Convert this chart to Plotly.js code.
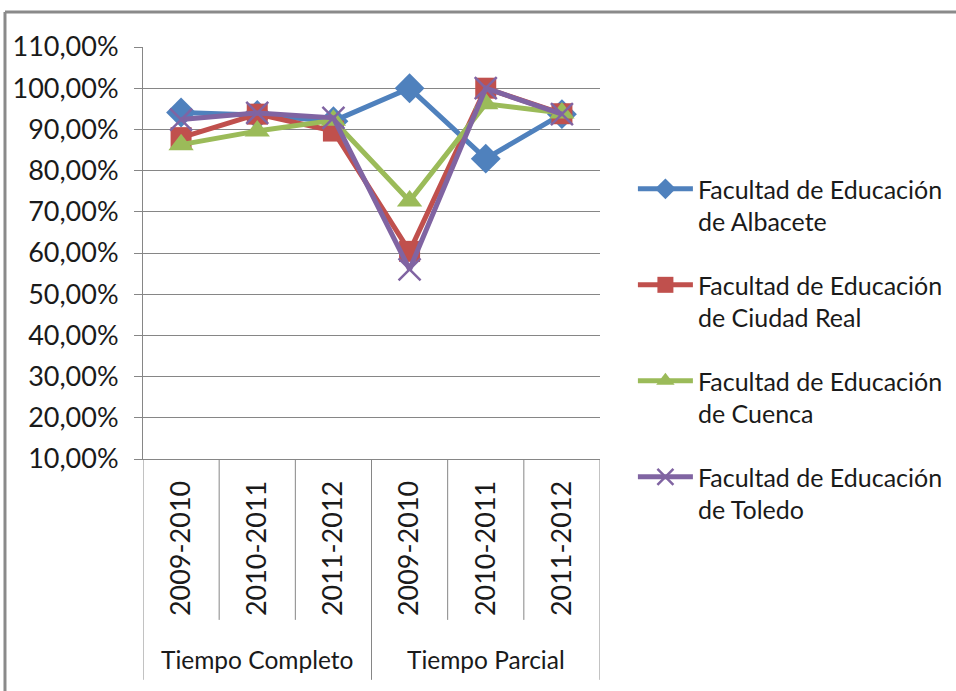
<!DOCTYPE html>
<html><head><meta charset="utf-8">
<script src="https://cdn.plot.ly/plotly-3.0.1.min.js"></script>
<style>html,body{margin:0;padding:0;background:#fff}#chart{width:956px;height:691px}</style>
</head><body><div id="chart"></div>
<script>
const groupNames = ["Tiempo Completo","Tiempo Parcial"];
const groups = ["Tiempo Completo","Tiempo Completo","Tiempo Completo","Tiempo Parcial","Tiempo Parcial","Tiempo Parcial"];
const years = ["2009-2010","2010-2011","2011-2012","2009-2010","2010-2011","2011-2012"];
const albacete = [94.1, 93.5, 92.0, 100.0, 82.9, 93.7];
const ciudadReal = [88.0, 93.7, 89.6, 60.4, 100.0, 93.8];
const cuenca = [86.3, 89.6, 92.2, 72.6, 96.2, 94.0];
const toledo = [92.4, 94.0, 92.8, 56.0, 100.0, 93.7];
const seriesNames = ["Facultad de Educación<br>de Albacete","Facultad de Educación<br>de Ciudad Real","Facultad de Educación<br>de Cuenca","Facultad de Educación<br>de Toledo"];
const yTicks = [10,20,30,40,50,60,70,80,90,100,110];
const yTickLabels = ["10,00%","20,00%","30,00%","40,00%","50,00%","60,00%","70,00%","80,00%","90,00%","100,00%","110,00%"];

const idx = years.map((_,i)=>i);
const colors = ["#4F81BD","#C0504D","#9BBB59","#8064A2"];
const symbols = ["diamond","square","triangle-up","x-thin-open"];
const sizes = [23,21,22,22];
const all = [albacete, ciudadReal, cuenca, toledo];
const traces = all.map((vals,i)=>({
  type:"scatter", mode:"lines+markers",
  x:idx, y:vals, name:seriesNames[i], legendgroup:"g"+i,
  line:{color:colors[i], width:5},
  marker:{symbol:symbols[i], size:sizes[i], color:colors[i], line:{color:colors[i], width: i===3?2.5:0}}
}));

const F = "Lato, 'Liberation Sans', sans-serif";
const GRID = "#868686";
const TXT = "#1a1a1a";

const shapes = [];
const annotations = [];
const bottomInner = -(620-459)/412.3, bottomGroup = -(680-459)/412.3;
for (let b = 0; b <= years.length; b++) {
  const isGroupEdge = b===0 || b===years.length || groups[b]!==groups[b-1];
  shapes.push({type:"line", xref:"x", yref:"paper", x0:b-0.5, x1:b-0.5, y0:0, y1:isGroupEdge?bottomGroup:bottomInner, line:{color:GRID, width:1}});
}
groupNames.forEach(g=>{
  const members = idx.filter(i=>groups[i]===g);
  const c = (members[0]+members[members.length-1])/2;
  annotations.push({x:c, xref:"x", y:-(660-459)/412.3, yref:"paper", text:g, showarrow:false, xanchor:"center", yanchor:"middle", font:{family:F, size:24.5, color:TXT}});
});
shapes.push({type:"line", xref:"paper", yref:"paper", x0:-0.302, x1:1.8, y0:1.085, y1:1.085, line:{color:"#8a8a8a", width:3}});
shapes.push({type:"line", xref:"paper", yref:"paper", x0:-0.302, x1:-0.302, y0:1.085, y1:-0.6, line:{color:"#8a8a8a", width:3}});

const layout = {
  width:956, height:691,
  margin:{l:143, r:356, t:47, b:232, autoexpand:false},
  paper_bgcolor:"#fff", plot_bgcolor:"#fff",
  showlegend:true,
  legend:{x:1.072, y:0.711, xanchor:"left", yanchor:"top", font:{family:F, size:25, color:TXT}, valign:"top", tracegroupgap:28, itemwidth:55, bgcolor:"rgba(0,0,0,0)"},
  xaxis:{range:[-0.5, years.length-0.5], tickvals:idx, ticktext:years, showgrid:false, zeroline:false, showline:true, linecolor:GRID, linewidth:1,
    ticks:"", tickangle:-90, ticklabelstandoff:10, tickfont:{family:F, size:27, color:TXT}},
  yaxis:{range:[10,110], tickvals:yTicks, ticktext:yTickLabels, showgrid:true, gridcolor:GRID, gridwidth:1,
    zeroline:false, showline:true, linecolor:GRID, linewidth:1, ticks:"outside", ticklen:8, tickcolor:GRID,
    ticklabelstandoff:10, tickfont:{family:F, size:27, color:TXT}},
  shapes:shapes,
  annotations:annotations
};
Plotly.newPlot("chart", traces, layout, {displayModeBar:false, staticPlot:true});
</script></body></html>
